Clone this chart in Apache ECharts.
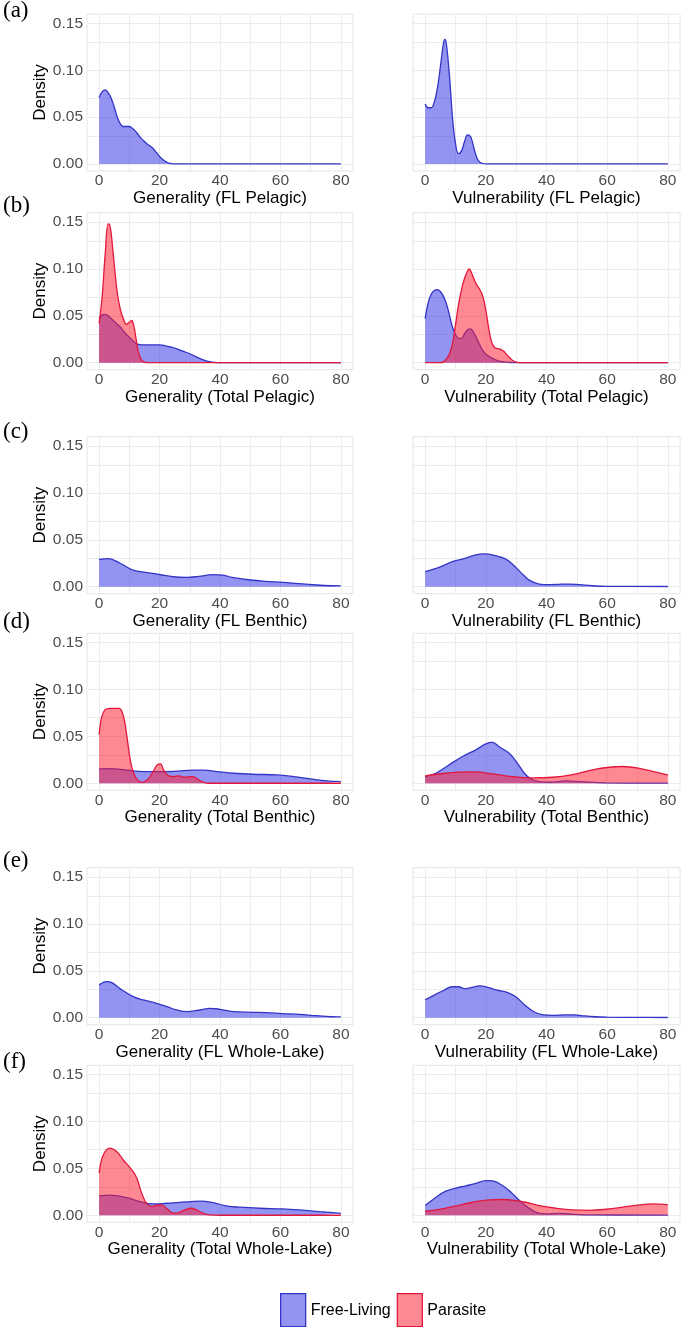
<!DOCTYPE html>
<html><head><meta charset="utf-8">
<script src="https://cdn.jsdelivr.net/npm/echarts@6/dist/echarts.min.js"></script>
<style>html,body{margin:0;padding:0;background:#fff}#c{width:685px;height:1327px}</style>
</head><body><div id="c"></div>
<script>
// ---------- tick / category data ----------
const xTickValues = [0, 20, 40, 60, 80];
const yTickValues = [0, 0.05, 0.10, 0.15];
const xGridValues = [0, 10, 20, 30, 40, 50, 60, 70, 80];
const yGridValues = [0, 0.025, 0.05, 0.075, 0.10, 0.125, 0.15];
const panelTags = ['(a)', '(b)', '(c)', '(d)', '(e)', '(f)'];
const groupNames = ['Free-Living', 'Parasite'];
const xTitles = [
  'Generality (FL Pelagic)', 'Vulnerability (FL Pelagic)',
  'Generality (Total Pelagic)', 'Vulnerability (Total Pelagic)',
  'Generality (FL Benthic)', 'Vulnerability (FL Benthic)',
  'Generality (Total Benthic)', 'Vulnerability (Total Benthic)',
  'Generality (FL Whole-Lake)', 'Vulnerability (FL Whole-Lake)',
  'Generality (Total Whole-Lake)', 'Vulnerability (Total Whole-Lake)'
];

// ---------- density curves [x, density] ----------
const genFLPelagicFree = [[0,0.071],[1,0.077],[2,0.079],[3,0.076],[4,0.07],[5,0.061],[6,0.05],[7,0.043],[8,0.040],[9,0.040],[10,0.040],[11,0.038],[12,0.035],[13,0.031],[14,0.027],[15,0.024],[16,0.021],[17,0.019],[18,0.016],[19,0.012],[20,0.008],[21,0.005],[22,0.0025],[23,0.001],[24,0.0003],[25,0],[80,0]];
const vulFLPelagicFree = [[0,0.064],[1,0.060],[2,0.060],[3,0.066],[4,0.08],[5,0.103],[6,0.128],[6.5,0.133],[7,0.128],[8,0.095],[9,0.05],[10,0.022],[11,0.011],[12,0.014],[13,0.024],[14,0.031],[15,0.029],[16,0.018],[17,0.007],[18,0.002],[19,0.0005],[20,0],[80,0]];

const genTotPelagicFree = [[0,0.047],[1,0.051],[2,0.0515],[3,0.050],[4,0.047],[5,0.044],[6,0.041],[7,0.038],[8,0.034],[9,0.030],[10,0.027],[11,0.024],[12,0.021],[13,0.0195],[14,0.019],[16,0.019],[18,0.019],[20,0.019],[22,0.018],[24,0.0165],[26,0.0145],[28,0.012],[30,0.0095],[32,0.0065],[34,0.0035],[36,0.0015],[38,0.0004],[40,0],[80,0]];
const genTotPelagicPara = [[0,0.042],[1,0.07],[2,0.115],[3,0.148],[3.5,0.147],[4,0.138],[5,0.105],[6,0.075],[7,0.057],[8,0.047],[9,0.041],[10,0.043],[10.8,0.045],[11.5,0.039],[12,0.030],[12.5,0.02],[13,0.011],[14,0.003],[15,0.0005],[16,0],[80,0]];
const vulTotPelagicFree = [[0,0.047],[1,0.064],[2,0.073],[3,0.077],[4,0.078],[5,0.076],[6,0.071],[7,0.063],[8,0.051],[9,0.038],[10,0.030],[11,0.026],[12,0.026],[13,0.031],[14,0.035],[15,0.036],[16,0.032],[17,0.026],[18,0.019],[19,0.013],[20,0.009],[22,0.005],[24,0.002],[26,0.0008],[28,0.0002],[30,0],[80,0]];
const vulTotPelagicPara = [[0,0],[5,0],[6,0.0008],[7,0.004],[8,0.009],[9,0.02],[10,0.040],[11,0.062],[12,0.078],[13,0.09],[14,0.098],[14.5,0.10],[15,0.098],[16,0.090],[17,0.083],[18,0.078],[19,0.071],[20,0.056],[21,0.036],[22,0.021],[23,0.016],[24,0.015],[25,0.014],[26,0.012],[27,0.008],[28,0.005],[29,0.002],[30,0.0007],[32,0],[80,0]];

const genFLBenthicFree = [[0,0.029],[3,0.030],[7,0.025],[11,0.018],[16,0.015],[20,0.013],[24.5,0.0106],[29,0.0099],[33,0.011],[37.5,0.0128],[41,0.0124],[44,0.0099],[50,0.0071],[55,0.0057],[61,0.0046],[66,0.0032],[72,0.0018],[77,0.001],[80,0.0008]];
const vulFLBenthicFree = [[0,0.016],[4.6,0.0206],[9,0.0266],[13.4,0.0305],[16.7,0.034],[19.5,0.035],[23.3,0.033],[26.6,0.0294],[28.8,0.024],[31.6,0.015],[34.3,0.007],[37.6,0.0028],[41,0.0021],[44,0.0025],[47.5,0.0028],[51,0.0021],[55,0.001],[60,0.0004],[80,0.0002]];

const genTotBenthicFree = [[0,0.0154],[3.6,0.0157],[9.2,0.014],[14.7,0.0125],[22.6,0.0125],[31.4,0.014],[34.7,0.014],[39,0.0125],[44.6,0.0107],[51,0.0096],[59,0.0089],[64.4,0.0071],[70,0.0046],[75.4,0.0025],[80,0.0018]];
const genTotBenthicPara = [[0,0.052],[0.9,0.071],[2,0.0786],[3.6,0.080],[5.3,0.080],[6.7,0.080],[8.1,0.071],[9.2,0.05],[10.3,0.025],[11.4,0.011],[12.7,0.0036],[14.2,0.001],[15.9,0.0036],[17.6,0.011],[19.2,0.0196],[20.3,0.0207],[21.4,0.014],[23,0.0079],[24.8,0.0071],[26.4,0.0079],[28.1,0.0064],[30.9,0.0071],[32.5,0.0046],[34.2,0.0014],[36,0],[80,0]];
const vulTotBenthicFree = [[0,0.0071],[3.5,0.0107],[7.9,0.0196],[12.3,0.0286],[16.7,0.0357],[20,0.042],[22,0.044],[24.4,0.039],[27.7,0.032],[30.5,0.021],[32.7,0.0107],[34.9,0.0046],[37.7,0.0018],[41,0.0011],[46.5,0.0025],[51,0.0018],[59.7,0.0004],[80,0.0001]];
const vulTotBenthicPara = [[0,0.0079],[6.8,0.0107],[13.4,0.0121],[16.7,0.0121],[22.2,0.01],[28.8,0.0071],[35.4,0.0057],[42,0.0064],[48.6,0.0093],[55.2,0.0143],[60.7,0.0171],[65.1,0.0179],[70.6,0.016],[76.1,0.0118],[80,0.0089]];

const genFLWholeFree = [[0,0.035],[2.5,0.0385],[4.2,0.0374],[6.9,0.031],[11.3,0.0225],[14.6,0.0189],[19,0.0153],[22.4,0.0118],[25.7,0.0082],[29,0.0064],[33.4,0.0082],[36.7,0.01],[40,0.0089],[44.4,0.0064],[51,0.0057],[55.3,0.0053],[60.8,0.0043],[66.3,0.0036],[71.8,0.0021],[77.3,0.0011],[80,0.0008]];
const vulFLWholeFree = [[0,0.019],[3,0.024],[6,0.029],[9,0.033],[11,0.033],[13,0.031],[15,0.032],[18,0.034],[21,0.032],[24,0.029],[27,0.027],[30,0.022],[33,0.013],[36,0.006],[39,0.003],[42,0.0025],[46,0.003],[49,0.003],[52,0.002],[56,0.001],[60,0.0006],[70,0.0003],[80,0.0002]];

const genTotWholeFree = [[0,0.0207],[3.6,0.0214],[9.1,0.0189],[13.5,0.0146],[17.9,0.0121],[22.3,0.0128],[28.9,0.0143],[33.3,0.015],[37.7,0.0135],[42.1,0.01],[46.5,0.0086],[53.1,0.0075],[60.8,0.0068],[66.3,0.0057],[72.9,0.0039],[80,0.0021]];
const genTotWholePara = [[0,0.045],[1.4,0.0645],[3.6,0.0716],[5.8,0.068],[8,0.059],[10.8,0.0485],[12.5,0.0396],[14.1,0.0235],[15.7,0.0128],[17.4,0.0093],[19,0.0107],[20.6,0.011],[22.3,0.0075],[24,0.0029],[25.6,0.0021],[27.8,0.005],[30.5,0.0075],[32.2,0.0057],[34.4,0.0021],[36.6,0.0004],[40,0],[80,0]];
const vulTotWholeFree = [[0,0.0103],[3.5,0.019],[6.8,0.0257],[10.1,0.029],[13.4,0.0314],[16.7,0.034],[20,0.037],[22.2,0.0367],[25.5,0.0317],[28.3,0.0246],[31.1,0.0157],[33.8,0.0086],[36.6,0.0032],[39.9,0.0014],[44.3,0.0021],[48.7,0.0011],[55.3,0.0004],[80,0.0002]];
const vulTotWholePara = [[0,0.0043],[4.6,0.0064],[10.1,0.01],[15.6,0.0139],[21.1,0.0164],[25.5,0.0168],[29.9,0.0157],[33.2,0.0139],[37.6,0.0103],[43.1,0.0075],[48.6,0.0057],[54.1,0.0053],[59.7,0.0064],[65.2,0.0086],[70.6,0.011],[75,0.0121],[80,0.0114]];

const panelFree = [genFLPelagicFree, vulFLPelagicFree, genTotPelagicFree, vulTotPelagicFree, genFLBenthicFree, vulFLBenthicFree, genTotBenthicFree, vulTotBenthicFree, genFLWholeFree, vulFLWholeFree, genTotWholeFree, vulTotWholeFree];
const panelPara = [null, null, genTotPelagicPara, vulTotPelagicPara, null, null, genTotBenthicPara, vulTotBenthicPara, null, null, genTotWholePara, vulTotWholePara];

// ---------- styling / layout ----------
const FONT = '"Liberation Sans", Arial, Helvetica, sans-serif';
const blueLine = '#3434c6', blueFill = 'rgba(40,40,228,0.5)';
const redLine = '#e3173c', redFill = 'rgba(255,28,48,0.52)';
const rowTops = [14, 212.7, 436.7, 633.3, 867.7, 1065.3];
const tagY = [12, 207, 433, 623, 862, 1063];
const colLeft = [87, 413], colWidth = [266, 267], gridH = 157;

const grids = [], xAxes = [], yAxes = [], series = [];
for (let i = 0; i < 12; i++) {
  const row = Math.floor(i / 2), col = i % 2;
  grids.push({left: colLeft[col], top: rowTops[row], width: colWidth[col], height: gridH,
    show: true, borderColor: '#e4e4e4', borderWidth: 1, backgroundColor: '#fff', containLabel: false});
  xAxes.push({type: 'value', gridIndex: i, min: -4, max: 84,
    axisLine: {show: false}, axisTick: {show: false}, splitLine: {show: false},
    axisLabel: {customValues: xTickValues, color: '#4d4d4d', fontSize: 15.5, fontFamily: FONT, margin: 2},
    name: xTitles[i], nameLocation: 'middle', nameGap: 18,
    nameTextStyle: {color: '#000', fontSize: 17, fontFamily: FONT}});
  yAxes.push({type: 'value', gridIndex: i, min: -0.0075, max: 0.16,
    axisLine: {show: false}, axisTick: {show: false}, splitLine: {show: false},
    axisLabel: {show: col === 0, customValues: yTickValues, color: '#4d4d4d', fontSize: 15.5, fontFamily: FONT, margin: 4,
      formatter: v => v.toFixed(2)},
    name: col === 0 ? 'Density' : '', nameLocation: 'middle', nameGap: 36,
    nameTextStyle: {color: '#000', fontSize: 17, fontFamily: FONT}});
  series.push({type: 'line', xAxisIndex: i, yAxisIndex: i, data: [[0, 0]], showSymbol: false, silent: true,
    lineStyle: {width: 0, opacity: 0}, z: 1, animation: false, tooltip: {show: false},
    markLine: {silent: true, z: 1, symbol: ['none', 'none'], label: {show: false}, animation: false,
      lineStyle: {color: '#ececec', width: 1, type: 'solid'},
      emphasis: {disabled: true},
      data: xGridValues.map(v => ({xAxis: v})).concat(yGridValues.map(v => ({yAxis: v})))}});
  const mk = (name, data, line, fill, z) => ({
    name, type: 'line', xAxisIndex: i, yAxisIndex: i, data, smooth: 0.4, showSymbol: false,
    color: line, lineStyle: {color: line, width: 1.3}, areaStyle: {color: fill, opacity: 1, origin: 'auto'},
    itemStyle: {color: line}, z, animation: false, emphasis: {disabled: true}});
  series.push(mk(groupNames[0], panelFree[i], blueLine, blueFill, 3));
  if (panelPara[i]) series.push(mk(groupNames[1], panelPara[i], redLine, redFill, 4));
}

const graphics = panelTags.map((t, r) => ({type: 'text', left: 3, top: tagY[r] - 13,
  style: {text: t, fontSize: 23, fontFamily: '"Liberation Serif", "Times New Roman", serif', fill: '#000'}}));

const chart = echarts.init(document.getElementById('c'), null, {renderer: 'canvas'});
chart.setOption({
  animation: false,
  backgroundColor: '#fff',
  grid: grids, xAxis: xAxes, yAxis: yAxes, series,
  graphic: graphics,
  legend: {left: 275, top: 1288, itemWidth: 25, itemHeight: 33, itemGap: 6, icon: 'rect', selectedMode: false,
    textStyle: {fontSize: 16, color: '#000', fontFamily: FONT},
    data: [
      {name: groupNames[0], itemStyle: {color: blueFill, borderColor: blueLine, borderWidth: 1.3}},
      {name: groupNames[1], itemStyle: {color: redFill, borderColor: redLine, borderWidth: 1.3}}
    ]}
});
</script></body></html>
